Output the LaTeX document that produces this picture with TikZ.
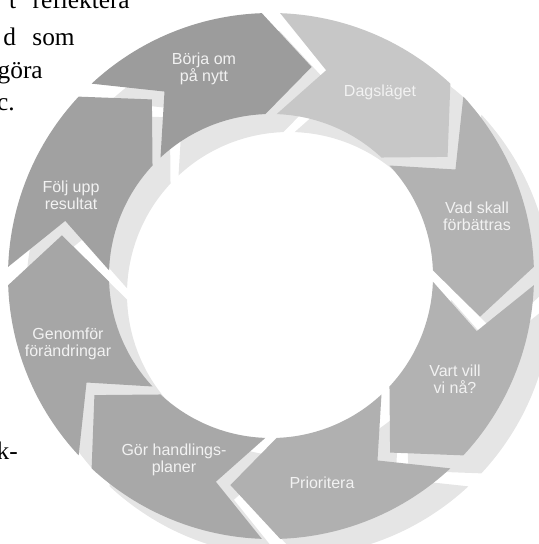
\documentclass[tikz,border=0pt]{standalone}
\usepackage{fontspec}
\setmainfont{Liberation Serif}
\newfontfamily\labelfont{Liberation Sans}
\definecolor{shadowgray}{gray}{0.9}
\definecolor{labelwhite}{gray}{0.95}
\tikzset{
  steplabel/.style={text=labelwhite,font=\labelfont\fontsize{12}{13}\selectfont,align=center},
  pagetext/.style={font=\fontsize{19}{23}\selectfont,anchor=base east,inner sep=0pt}
}
\begin{document}
\begin{tikzpicture}[x=0.75pt,y=0.75pt]
\clip (-271,-268) rectangle (268,276);
\node[pagetext] (ptone) at (-141,268) {t\hspace{0.65em}reflektera};
\node[pagetext] (pttwo) at (-196,231) {d\hspace{0.65em}som};
\node[pagetext] (ptthree) at (-228,198) {göra};
\node[pagetext] (ptfour) at (-256,166) {c.};
\node[pagetext] (ptfive) at (-253,-183) {k-};
\foreach \b in {135,90,...,-180}
  \fill[shadowgray,shift={(18,-18)}] ({\b-2}:263) arc[start angle=\b-2,end angle=\b-43,radius=263]
    -- ({\b-56}:213) -- ({\b-43}:162) arc[start angle=\b-43,end angle=\b-2,radius=162]
    -- ({\b-15}:213) -- cycle;
\foreach \b/\p in {135/39,90/22,45/30,0/30,-45/31,-90/34,-135/35,-180/37}
  \fill[black!\p] ({\b-2}:263) arc[start angle=\b-2,end angle=\b-43,radius=263]
    -- ({\b-56}:213) -- ({\b-43}:162) arc[start angle=\b-43,end angle=\b-2,radius=162]
    -- ({\b-15}:213) -- cycle;
\node[steplabel] (borja) at (-67,207) {Börja om\\på nytt};
\node[steplabel] (dagslaget) at (109,184) {Dagsläget};
\node[steplabel] (vadskall) at (206,60) {Vad skall\\förbättras};
\node[steplabel] (vartvill) at (184,-103) {Vart vill\\vi nå?};
\node[steplabel] (prioritera) at (51,-207) {Prioritera};
\node[steplabel] (handling) at (-97,-184) {Gör handlings-\\planer};
\node[steplabel] (genomfor) at (-203,-68) {Genomför\\förändringar};
\node[steplabel] (foljupp) at (-200,81) {Följ upp\\resultat};
\end{tikzpicture}
\end{document}
